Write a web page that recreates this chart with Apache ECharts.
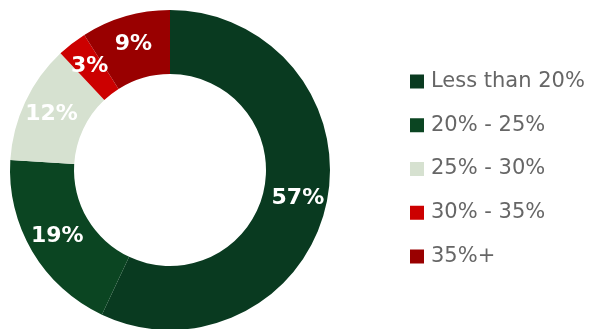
<!DOCTYPE html>
<html><head><meta charset="utf-8">
<script src="https://cdn.jsdelivr.net/npm/echarts@6/dist/echarts.min.js"></script>
<style>html,body{margin:0;padding:0;background:#fff}#c{width:610px;height:329px}</style>
</head><body><div id="c"></div>
<script>
const categories = ['Less than 20%', '20% - 25%', '25% - 30%', '30% - 35%', '35%+'];
const values = [57, 19, 12, 3, 9];
const colors = ['#093a20', '#0b4522', '#d6e1d0', '#cc0000', '#990000'];

const chart = echarts.init(document.getElementById('c'), null, {renderer: 'canvas'});
chart.setOption({
  animation: false,
  color: colors,
  legend: {
    orient: 'vertical',
    left: 405,
    top: 66,
    itemWidth: 14,
    itemHeight: 14,
    itemGap: 22.75,
    icon: 'rect',
    textStyle: {fontFamily: 'DejaVu Sans', fontSize: 21, color: '#666', lineHeight: 21, padding: [0,0,0,2]},
    data: categories
  },
  series: [{
    type: 'pie',
    center: [170, 170],
    radius: [96, 160],
    startAngle: 90,
    clockwise: true,
    avoidLabelOverlap: false,
    label: {
      show: true,
      position: 'inside',
      formatter: '{c}%',
      color: '#fff',
      fontFamily: 'DejaVu Sans',
      fontWeight: 'bold',
      fontSize: 22
    },
    labelLine: {show: false},
    emphasis: {disabled: true},
    data: categories.map((n, i) => ({name: n, value: values[i]}))
  }]
});
</script></body></html>
